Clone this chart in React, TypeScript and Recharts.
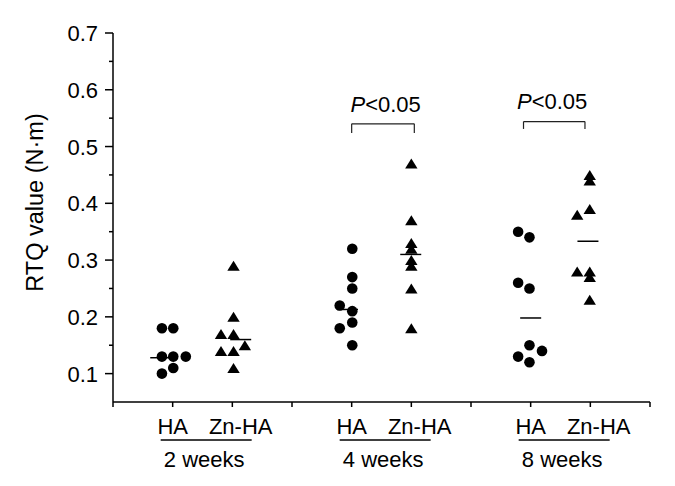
import React from 'react';
import { ScatterChart, Scatter, XAxis, YAxis, ReferenceLine, ReferenceDot, Label } from 'recharts';

const FONT = '"Liberation Sans", Arial, Helvetica, sans-serif';

// RTQ values (N·m); x is the jittered column position (groups at 1,2 / 4,5 / 7,8)
const ha2wk = [
  { x: 0.82, y: 0.18 }, { x: 1.01, y: 0.18 }, { x: 0.82, y: 0.13 }, { x: 1.01, y: 0.13 },
  { x: 1.22, y: 0.13 }, { x: 1.01, y: 0.11 }, { x: 0.82, y: 0.10 },
];
const znha2wk = [
  { x: 2.02, y: 0.29 }, { x: 2.02, y: 0.20 }, { x: 1.81, y: 0.17 }, { x: 2.02, y: 0.17 },
  { x: 2.21, y: 0.15 }, { x: 1.81, y: 0.14 }, { x: 2.02, y: 0.14 }, { x: 2.02, y: 0.11 },
];
const ha4wk = [
  { x: 4.01, y: 0.32 }, { x: 4.01, y: 0.27 }, { x: 4.01, y: 0.25 }, { x: 3.8, y: 0.22 },
  { x: 4.01, y: 0.21 }, { x: 4.01, y: 0.19 }, { x: 3.8, y: 0.18 }, { x: 4.01, y: 0.15 },
];
const znha4wk = [
  { x: 5.0, y: 0.47 }, { x: 5.0, y: 0.37 }, { x: 5.0, y: 0.33 }, { x: 5.0, y: 0.32 },
  { x: 5.0, y: 0.30 }, { x: 5.0, y: 0.29 }, { x: 5.0, y: 0.25 }, { x: 5.0, y: 0.18 },
];
const ha8wk = [
  { x: 6.79, y: 0.35 }, { x: 6.98, y: 0.34 }, { x: 6.79, y: 0.26 }, { x: 6.98, y: 0.25 },
  { x: 6.98, y: 0.15 }, { x: 7.19, y: 0.14 }, { x: 6.79, y: 0.13 }, { x: 6.98, y: 0.12 },
];
const znha8wk = [
  { x: 7.99, y: 0.45 }, { x: 7.99, y: 0.44 }, { x: 7.99, y: 0.39 }, { x: 7.78, y: 0.38 },
  { x: 7.78, y: 0.28 }, { x: 7.99, y: 0.28 }, { x: 7.99, y: 0.27 }, { x: 7.99, y: 0.23 },
];

// group means (short horizontal bars)
const means = [
  { x: 0.8, y: 0.128 }, { x: 2.14, y: 0.16 }, { x: 3.93, y: 0.213 },
  { x: 4.99, y: 0.31 }, { x: 7.0, y: 0.198 }, { x: 7.96, y: 0.333 },
];

const yTicks = [0.1, 0.15, 0.2, 0.25, 0.3, 0.35, 0.4, 0.45, 0.5, 0.55, 0.6, 0.65, 0.7];
const xTicks = [0, 1, 2, 3, 4, 5, 6, 7, 8, 9];
const groupStarts = [1, 4, 7]; // HA column of each time point
const groupNames = ['2 weeks', '4 weeks', '8 weeks'];

// significance brackets
const brackets = [
  { x1: 4.0, x2: 5.05, y: 0.54, foot: 0.524, tx: 4.57, ty: 0.561 },
  { x1: 6.88, x2: 7.91, y: 0.544, foot: 0.531, tx: 7.36, ty: 0.566 },
];

const Dot = (p: any) => <circle cx={p.cx} cy={p.cy} r={5.3} fill="#000" />;
const Tri = (p: any) => (
  <polygon
    points={`${p.cx},${p.cy - 5} ${p.cx + 6.2},${p.cy + 5} ${p.cx - 6.2},${p.cy + 5}`}
    fill="#000"
  />
);
const MeanBar = (p: any) => (
  <line x1={p.cx - 10.5} x2={p.cx + 10.5} y1={p.cy} y2={p.cy} stroke="#000" strokeWidth={1.5} />
);

const YTick = ({ x, y, payload }: any) => {
  const v = payload.value;
  const major = Math.round(v * 100) % 10 === 0;
  return (
    <g>
      <line x1={x - (major ? 8 : 4)} x2={x} y1={y} y2={y} stroke="#000" strokeWidth={1.5} />
      {major && (
        <text x={x - 15} y={y + 8} textAnchor="end" fontSize={22} fontFamily={FONT} fill="#000">
          {v.toFixed(1)}
        </text>
      )}
    </g>
  );
};

// tick mark on every integer; group labels hang off the HA column of each time point
const XTick = ({ x, y, payload }: any) => {
  const i = groupStarts.indexOf(payload.value);
  return (
    <g fontFamily={FONT} fontSize={22} fill="#000">
      <line x1={x} x2={x} y1={y} y2={y + 5} stroke="#000" strokeWidth={1.5} />
      {i >= 0 && (
        <g>
          <text x={x} y={y + 32} textAnchor="middle">HA</text>
          <text x={x + 68} y={y + 32} textAnchor="middle">Zn-HA</text>
          <line x1={x - 12} x2={x + 79} y1={y + 38} y2={y + 38} stroke="#000" strokeWidth={1.5} />
          <text x={x + 31.5} y={y + 65} textAnchor="middle">{groupNames[i]}</text>
        </g>
      )}
    </g>
  );
};

const PText = (p: any) => (
  <text x={p.cx} y={p.cy} textAnchor="middle" fontSize={22} fontFamily={FONT} fill="#000">
    <tspan fontStyle="italic">P</tspan>&lt;0.05
  </text>
);

const YLabel = (props: any) => {
  const vb = props.viewBox;
  const cx = vb.x + 27;
  const cy = vb.y + vb.height / 2 - 15;
  return (
    <text
      transform={`translate(${cx},${cy}) rotate(-90)`}
      textAnchor="middle"
      dominantBaseline="central"
      fontSize={23.5}
      fontFamily={FONT}
      fill="#000"
    >
      RTQ value (N·m)
    </text>
  );
};

export default function App() {
  const axisStroke = { stroke: '#000', strokeWidth: 1.5 };
  return (
    <ScatterChart width={667} height={478} margin={{ top: 25, right: 25, left: 0, bottom: 6 }}>
      <XAxis
        type="number"
        dataKey="x"
        domain={[0, 9]}
        ticks={xTicks}
        tick={<XTick />}
        tickSize={0}
        tickMargin={0}
        height={78}
        axisLine={axisStroke}
        tickLine={false}
        interval={0}
      />
      <YAxis
        type="number"
        dataKey="y"
        domain={[0.05, 0.7]}
        ticks={yTicks}
        tick={<YTick />}
        tickSize={0}
        tickMargin={0}
        width={105}
        axisLine={axisStroke}
        tickLine={false}
        interval={0}
        allowDataOverflow
      >
        <Label content={<YLabel />} />
      </YAxis>

      {brackets.map((b, i) => (
        <ReferenceLine
          key={`bar-${i}`}
          segment={[{ x: b.x1, y: b.y }, { x: b.x2, y: b.y }]}
          stroke="#222"
          strokeWidth={1.2}
        />
      ))}
      {brackets.map((b, i) => (
        <ReferenceLine
          key={`l-${i}`}
          segment={[{ x: b.x1, y: b.y }, { x: b.x1, y: b.foot }]}
          stroke="#222"
          strokeWidth={1.2}
        />
      ))}
      {brackets.map((b, i) => (
        <ReferenceLine
          key={`r-${i}`}
          segment={[{ x: b.x2, y: b.y }, { x: b.x2, y: b.foot }]}
          stroke="#222"
          strokeWidth={1.2}
        />
      ))}
      {brackets.map((b, i) => (
        <ReferenceDot key={`t-${i}`} x={b.tx} y={b.ty} r={0} shape={PText} />
      ))}

      <Scatter data={means} shape={MeanBar} isAnimationActive={false} />
      <Scatter data={ha2wk} shape={Dot} isAnimationActive={false} />
      <Scatter data={znha2wk} shape={Tri} isAnimationActive={false} />
      <Scatter data={ha4wk} shape={Dot} isAnimationActive={false} />
      <Scatter data={znha4wk} shape={Tri} isAnimationActive={false} />
      <Scatter data={ha8wk} shape={Dot} isAnimationActive={false} />
      <Scatter data={znha8wk} shape={Tri} isAnimationActive={false} />
    </ScatterChart>
  );
}
